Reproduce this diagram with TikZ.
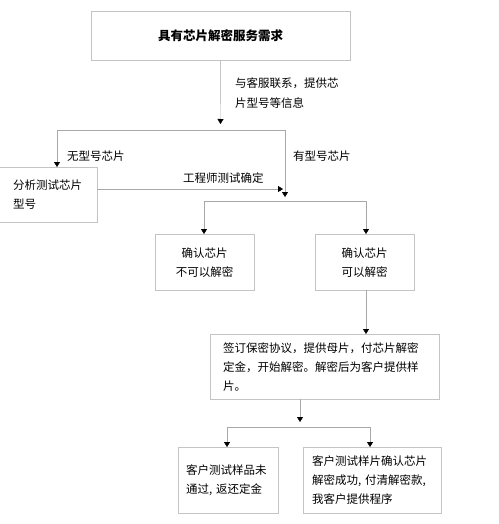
\documentclass[tikz,border=0pt]{standalone}
\usepackage{fontspec}
\usetikzlibrary{arrows.meta,positioning}
\newfontfamily\cjk{Noto Sans CJK SC}
\definecolor{edge}{HTML}{A8A8A8}
\definecolor{frame}{HTML}{C4C4C4}

\begin{document}
\begin{tikzpicture}[x=1pt,y=-1pt,
 b/.style={draw=frame,fill=white,anchor=north west,inner sep=0pt,
 font=\cjk\fontsize{11.5}{19}\selectfont},
 t/.style={anchor=west,align=left,inner sep=0pt,font=\cjk\fontsize{11.5}{20}\selectfont},
 a/.style={-{Triangle[length=5pt,width=6pt,color=black]},draw=edge},
 l/.style={draw=edge}]
 \useasboundingbox (0,0) rectangle (498,524);
 \node[b,minimum width=259,minimum height=49,font=\cjk\fontsize{12.5}{19}\selectfont\bfseries] (need) at (91,11) {具有芯片解密服务需求};
 \node[b,minimum height=55,text width=70,inner xsep=14,align=left] (ana) at (-1,167) {分析测试芯片\\型号};
 \node[b,minimum width=99,minimum height=56,align=center] (no) at (155,234) {确认芯片\\不可以解密};
 \node[b,minimum width=99,minimum height=56,align=center] (yes) at (315,234) {确认芯片\\可以解密};
 \node[b,minimum height=65,text width=203,inner xsep=13,align=left] (sign) at (210,334) {签订保密协议，提供母片，付芯片解密\\定金，开始解密。解密后为客户提供样\\片。};
 \node[b,minimum height=66,text width=84,inner xsep=8,align=left] (fail) at (178,447) {客户测试样品未\\通过, 返还定金};
 \node[b,minimum height=66,text width=120,inner xsep=9,align=left] (ok) at (303,447) {客户测试样片确认芯片\\解密成功, 付清解密款,\\我客户提供程序};
 % labels
 \node[t] (ask) at (235,93) {与客服联系，提供芯\\片型号等信息};
 \node[t] (nomodel) at (67,156) {无型号芯片};
 \node[t] (hasmodel) at (293,156) {有型号芯片};
 \node[t] (eng) at (183,178) {工程师测试确定};
 % junctions
 \coordinate (t1) at (220.5,124);
 \coordinate (j1l) at (57,130); \coordinate (j1r) at (285,130);
 \coordinate (j2) at (285,197); \coordinate (e1) at (283,189);
 \coordinate (j3l) at (204,201); \coordinate (j3r) at (366,201);
 \coordinate (j4) at (300,422);
 \coordinate (j5l) at (227,427); \coordinate (j5r) at (370,427);
 \draw[a] (need) -- (t1);
 \draw[l] (j1l) -- (j1r);
 \draw[a] (j1l) -- (j1l |- ana.north);
 \draw[a] (j1r) -- (j2);
 \draw[a] (ana.east |- e1) -- (e1);
 \draw[l] (j3l) -- (j3r);
 \draw[a] (j3l) -- (j3l |- no.north);
 \draw[a] (j3r) -- (j3r |- yes.north);
 \draw[a] (j3r |- yes.south) -- (j3r |- sign.north);
 \draw[a] (sign.south -| j4) -- (j4);
 \draw[l] (j5l) -- (j5r);
 \draw[a] (j5l) -- (j5l |- fail.north);
 \draw[a] (j5r) -- (j5r |- ok.north);
\end{tikzpicture}
\end{document}
